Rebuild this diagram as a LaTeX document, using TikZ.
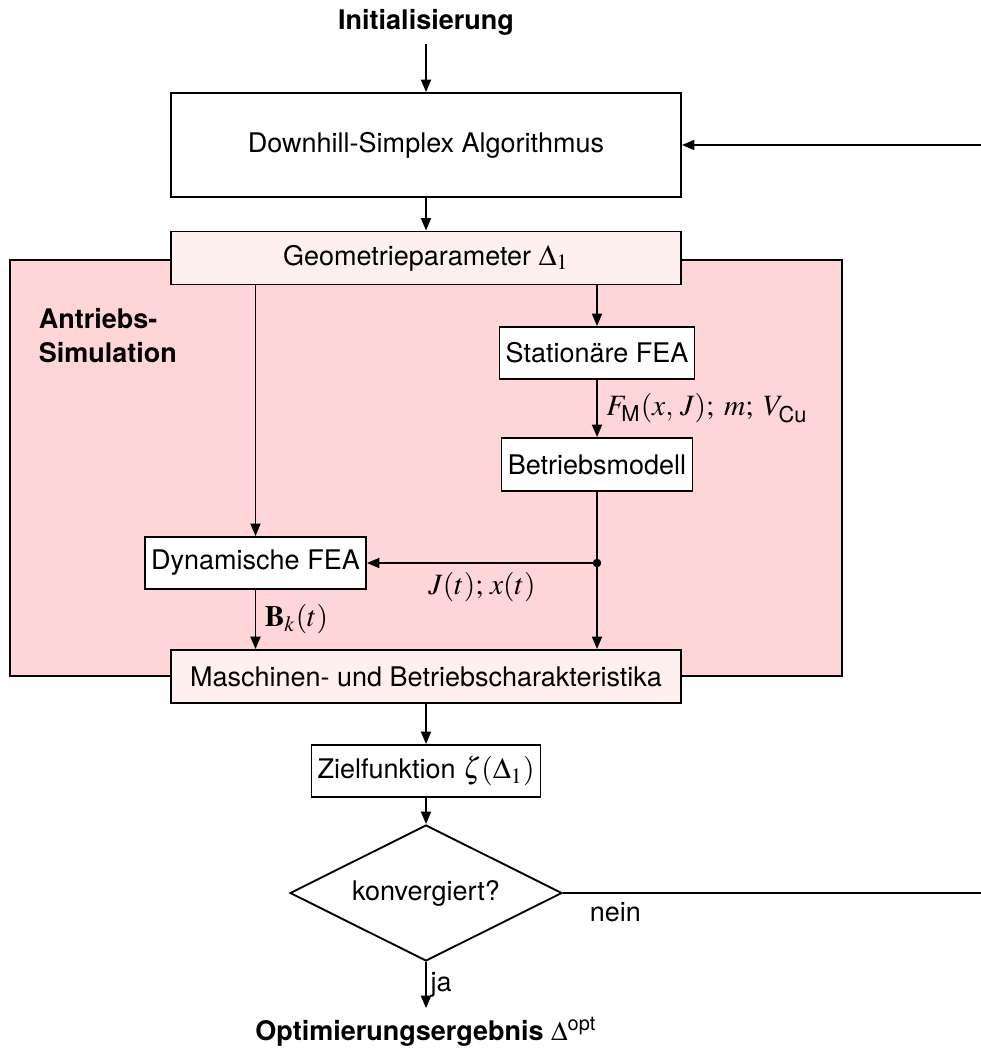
\documentclass[tikz,border=0pt]{standalone}
\usepackage{amsmath}
\usepackage{mathptmx}
\usepackage[no-math]{fontspec}
\setmainfont{TeX Gyre Heros}
\usepackage{tikz}
\usetikzlibrary{arrows.meta,shapes.geometric}
\definecolor{simrosa}{RGB}{255,214,216}
\definecolor{hellrosa}{RGB}{255,240,240}
\newcommand{\grossmath}[1]{{\fontsize{11.8pt}{14pt}\selectfont$#1$}}

\begin{document}
\begin{tikzpicture}[x=0.4pt, y=-0.4pt, line width=0.75pt, font=\fontsize{10.8pt}{13pt}\selectfont,
		pfeil/.style={-{Triangle[length=5pt,width=4pt]}},
		formel/.style={font=\fontsize{11.8pt}{14pt}\selectfont},
		kasten/.style={draw, fill=white, inner sep=2pt, minimum height=20.8pt},
		breit/.style={kasten, minimum width=204pt, minimum height=21.2pt},
		raute/.style={draw, fill=white, diamond, aspect=2, inner sep=0pt, minimum width=108.8pt, minimum height=54.4pt}]
		\useasboundingbox (0,0) rectangle (980,1050);
		\filldraw[fill=simrosa] (10,260) rectangle (842,676);
		\node[align=left, anchor=north west, font=\fontsize{10.8pt}{13pt}\selectfont\bfseries, inner sep=0pt] (sim) at (38,307) {Antriebs-\\[0.6pt]Simulation};

		\node[font=\fontsize{10.8pt}{13pt}\selectfont\bfseries] (init) at (426,22) {Initialisierung};
		\node[breit, minimum height=41.6pt] (downhill) at (426,145) {Downhill-Simplex Algorithmus};
		\node[breit, fill=hellrosa] (geo) at (426,258) {Geometrieparameter \grossmath{\Delta_1}};
		\node[kasten, minimum width=78pt] (stat) at (597,353) {Stationäre FEA};
		\node[kasten, minimum width=76.4pt, minimum height=21.2pt] (betr) at (597,464.5) {Betriebsmodell};
		\node[kasten, minimum width=88.4pt] (dyn) at (255.5,563) {Dynamische FEA};
		\node[breit, fill=hellrosa] (masch) at (426,676.5) {Maschinen- und Betriebscharakteristika};
		\node[kasten, minimum width=91.6pt] (ziel) at (426,771) {Zielfunktion \grossmath{\zeta(\Delta_1)}};
		\node[raute] (konv) at (426,893) {konvergiert?};
		\node[font=\fontsize{10.8pt}{13pt}\selectfont\bfseries] (opt) at (426,1032) {Optimierungsergebnis $\Delta^{\text{\normalfont opt}}$};
		\coordinate (abzw) at (597,563);
		\coordinate (rueck) at (1000,893);

		\draw[pfeil] (init.south) -- (init.south |- downhill.north);
		\draw[pfeil] (downhill) -- (geo);
		\draw[pfeil] (geo.south -| dyn.north) -- (dyn.north);
		\draw[pfeil] (geo.south -| stat.north) -- (stat.north);
		\draw[pfeil] (stat) -- node[right, formel]{$F_{\text{M}}(x,\,J);\; m;\; V_{\text{Cu}}$} (betr);
		\draw[pfeil] (betr.south) -- (betr.south |- masch.north);
		\filldraw (abzw) circle (1.3pt);
		\draw[pfeil] (abzw) -- node[below, formel]{$J(t);\, x(t)$} (dyn.east);
		\draw[pfeil] (dyn) -- node[right, formel]{$\mathbf{B}_k(t)$} (dyn.south |- masch.north);
		\draw[pfeil] (masch) -- (ziel);
		\draw[pfeil] (ziel) -- (konv);
		\draw[pfeil] (konv) -- node[right, inner sep=1.5pt]{ja} (opt);
		\draw[pfeil] (konv.east) -- node[pos=0.12, below]{nein} (rueck) |- (downhill.east);
	\end{tikzpicture}
\end{document}
